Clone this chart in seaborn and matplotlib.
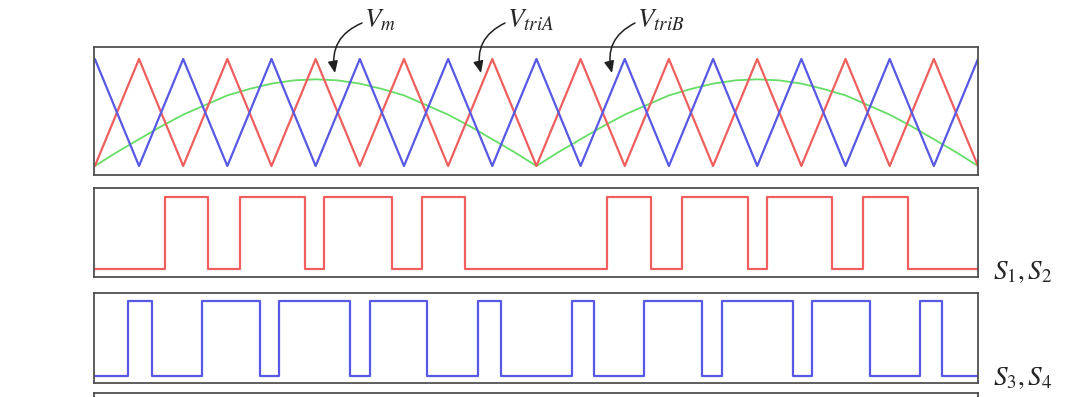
import matplotlib
matplotlib.use("Agg")
import matplotlib.pyplot as plt
import seaborn as sns
import pandas as pd

# carrier vertices (normalised time, 10 carrier periods)
t_vertices = [0.00, 0.05, 0.10, 0.15, 0.20, 0.25, 0.30, 0.35, 0.40, 0.45, 0.50,
              0.55, 0.60, 0.65, 0.70, 0.75, 0.80, 0.85, 0.90, 0.95, 1.00]
v_tri_a = [0, 1, 0, 1, 0, 1, 0, 1, 0, 1, 0, 1, 0, 1, 0, 1, 0, 1, 0, 1, 0]
v_tri_b = [1, 0, 1, 0, 1, 0, 1, 0, 1, 0, 1, 0, 1, 0, 1, 0, 1, 0, 1, 0, 1]

# rectified reference
t_mod = [0.000, 0.025, 0.050, 0.075, 0.100, 0.125, 0.150, 0.175, 0.200, 0.225,
         0.250, 0.275, 0.300, 0.325, 0.350, 0.375, 0.400, 0.425, 0.450, 0.475,
         0.500, 0.525, 0.550, 0.575, 0.600, 0.625, 0.650, 0.675, 0.700, 0.725,
         0.750, 0.775, 0.800, 0.825, 0.850, 0.875, 0.900, 0.925, 0.950, 0.975, 1.000]
v_mod = [0.00, 0.13, 0.25, 0.37, 0.48, 0.57, 0.66, 0.72, 0.77, 0.80,
         0.81, 0.80, 0.77, 0.72, 0.66, 0.57, 0.48, 0.37, 0.25, 0.13,
         0.00, 0.13, 0.25, 0.37, 0.48, 0.57, 0.66, 0.72, 0.77, 0.80,
         0.81, 0.80, 0.77, 0.72, 0.66, 0.57, 0.48, 0.37, 0.25, 0.13, 0.00]

# switching edges for S1,S2 and S3,S4 (start low)
s12_edges = [0.0, 0.079, 0.128, 0.164, 0.238, 0.260, 0.336, 0.370, 0.419,
             0.580, 0.630, 0.665, 0.740, 0.761, 0.835, 0.870, 0.921, 1.0]
s34_edges = [0.0, 0.037, 0.065, 0.121, 0.187, 0.208, 0.289, 0.311, 0.376, 0.434, 0.460,
             0.540, 0.565, 0.622, 0.687, 0.710, 0.790, 0.812, 0.878, 0.934, 0.959, 1.0]

RED = "#f05e5e"
BLUE = "#5858e6"
GREEN = "#66dd66"
FRAME = "#505050"

sns.set_style("white")
plt.rcParams["mathtext.fontset"] = "stix"


def step_frame(edges):
    levels = [i % 2 for i in range(len(edges) - 1)]
    levels.append(levels[-1])
    return pd.DataFrame({"t": edges, "v": levels})


def frame_axis(ax, ylim):
    ax.set_xlim(-0.001, 1.0)
    ax.set_ylim(*ylim)
    ax.set_xticks([])
    ax.set_yticks([])
    ax.set_xlabel("")
    ax.set_ylabel("")
    for sp in ax.spines.values():
        sp.set_visible(True)
        sp.set_color(FRAME)
        sp.set_linewidth(1.3)


fig = plt.figure(figsize=(10.69, 3.97), dpi=100)
L, W = 94 / 1069, 884 / 1069
ax_top = fig.add_axes([L, 1 - 175 / 397, W, 128 / 397])
ax_mid = fig.add_axes([L, 1 - 277 / 397, W, 89 / 397])
ax_bot = fig.add_axes([L, 1 - 383 / 397, W, 90 / 397])
ax_next = fig.add_axes([L, 1 - 480 / 397, W, 87 / 397])

carriers = pd.DataFrame({"t": t_vertices, "a": v_tri_a, "b": v_tri_b})
mod = pd.DataFrame({"t": t_mod, "v": v_mod})
sns.lineplot(data=mod, x="t", y="v", ax=ax_top, color=GREEN, lw=1.3, sort=False, estimator=None)
sns.lineplot(data=carriers, x="t", y="a", ax=ax_top, color=RED, lw=1.6, sort=False, estimator=None)
sns.lineplot(data=carriers, x="t", y="b", ax=ax_top, color=BLUE, lw=1.6, sort=False, estimator=None)
frame_axis(ax_top, (-0.084, 1.112))

sns.lineplot(data=step_frame(s12_edges), x="t", y="v", ax=ax_mid, color=RED, lw=1.6,
             drawstyle="steps-post", sort=False, estimator=None)
frame_axis(ax_mid, (-0.111, 1.125))

sns.lineplot(data=step_frame(s34_edges), x="t", y="v", ax=ax_bot, color=BLUE, lw=1.6,
             drawstyle="steps-post", sort=False, estimator=None)
frame_axis(ax_bot, (-0.093, 1.107))

frame_axis(ax_next, (0, 1))

# labels on the right
fig.text(993 / 1069, 1 - 272 / 397, r"$S_1, S_2$", fontsize=19.5, va="center", ha="left")
fig.text(993 / 1069, 1 - 378 / 397, r"$S_3, S_4$", fontsize=19.5, va="center", ha="left")

# signal names with curved arrows
names = [(r"$V_m$", 364, 335), (r"$V_{triA}$", 507, 481), (r"$V_{triB}$", 637, 612)]
for txt, x_txt, x_tip in names:
    fig.text(x_txt / 1069, 1 - 20 / 397, txt, fontsize=19.5, va="center", ha="left")
    ax_top.annotate("", xy=(x_tip, 397 - 73), xycoords="figure pixels",
                    xytext=(x_txt - 2, 397 - 23), textcoords="figure pixels",
                    arrowprops=dict(arrowstyle="-|>,head_length=0.7,head_width=0.3",
                                    color="#202020", lw=1.1,
                                    connectionstyle="arc3,rad=0.4",
                                    shrinkA=0, shrinkB=0))

fig.savefig("out.png", dpi=100)
